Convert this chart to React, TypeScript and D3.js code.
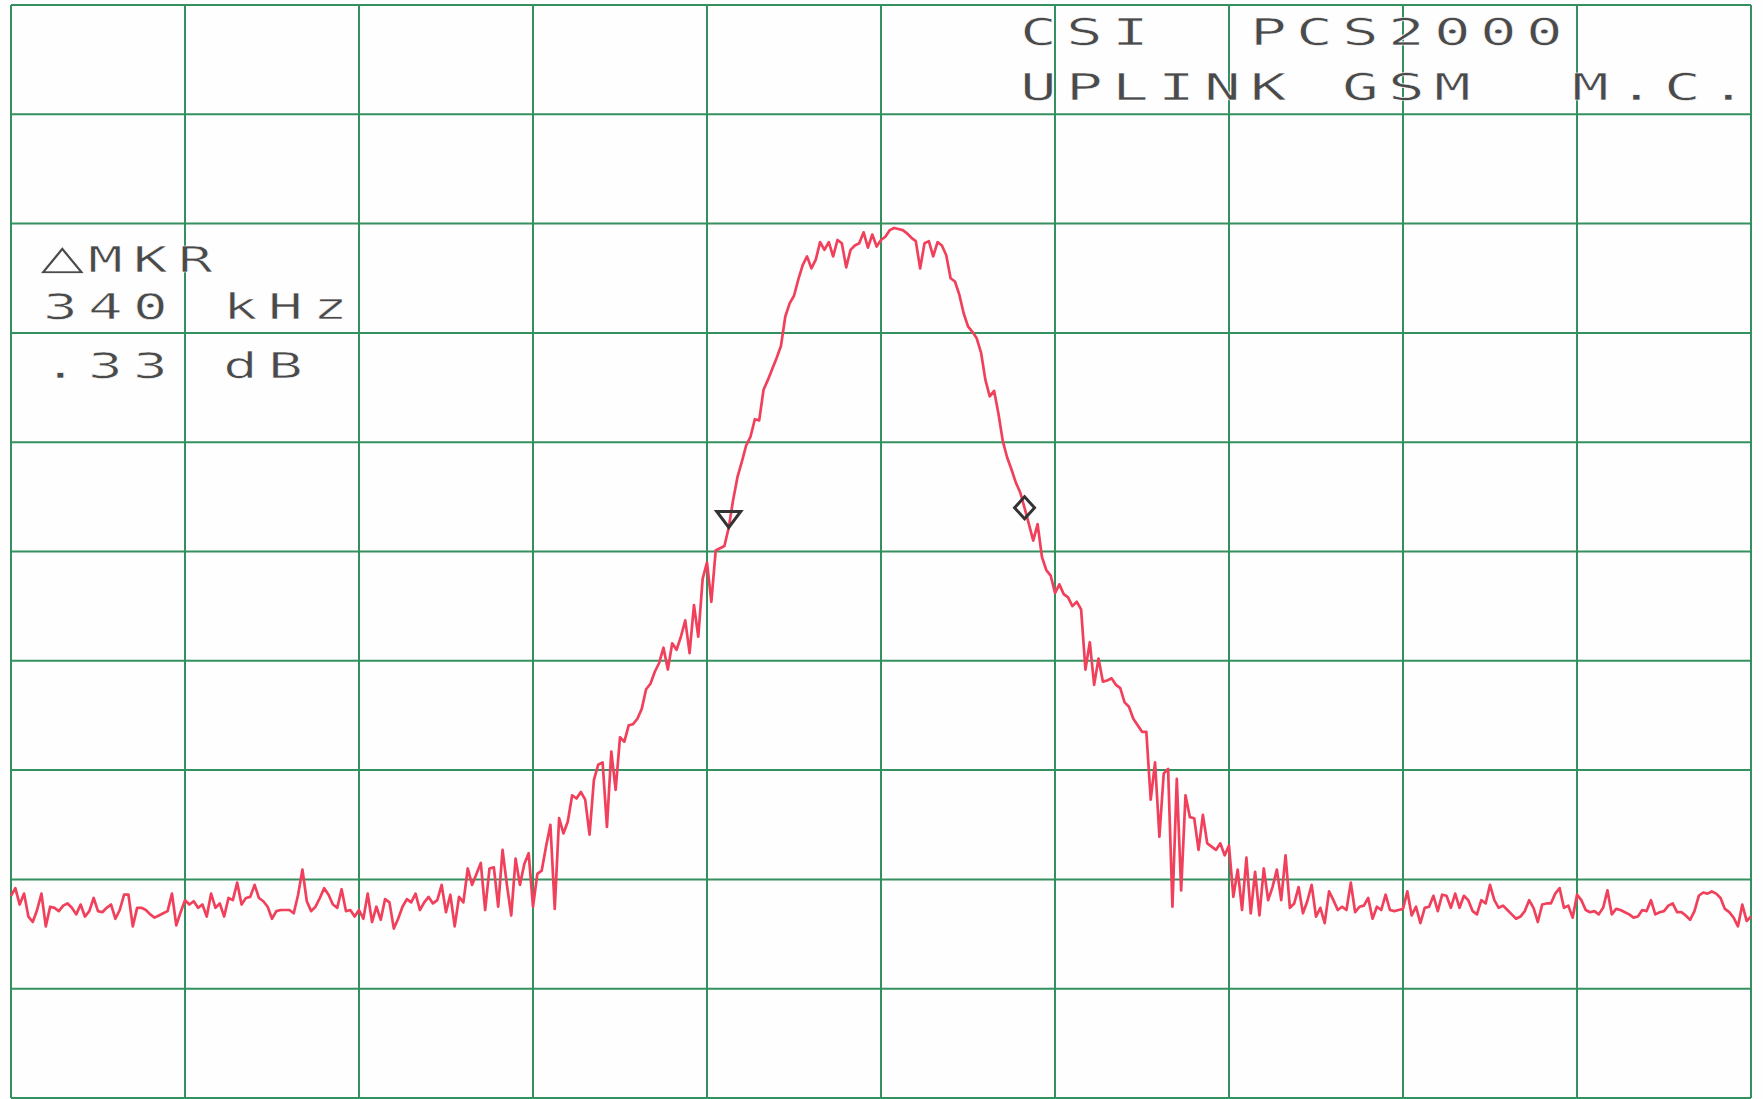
import React from 'react';
import * as d3 from 'd3';

const W = 1763;
const H = 1099;

// Sweep: 401 points, -1000 kHz .. +1000 kHz around centre, 5 kHz per point
const START_KHZ = -1000;
const STEP_KHZ = 5;

// Grid divisions (200 kHz/div horizontally, 10 dB/div vertically)
const X_GRID_KHZ = [-1000, -800, -600, -400, -200, 0, 200, 400, 600, 800, 1000];
const Y_GRID_DB = [0, -10, -20, -30, -40, -50, -60, -70, -80, -90, -100];

// Trace values (dB)
const noiseLeft = [
  -81.5, -80.8, -82.3, -81.3, -83.4, -83.9, -82.8, -81.3, -84.3, -82.5,
  -82.6, -82.9, -82.4, -82.2, -82.6, -83.2, -82.3, -83.4, -82.9, -81.7,
  -82.9, -83.0, -82.6, -82.3, -83.6, -82.8, -81.4, -81.4, -84.3, -82.6,
  -82.6, -82.8, -83.2, -83.5, -83.3, -83.1, -82.9, -81.3, -84.2, -83.0,
  -81.9, -82.3, -82.0, -82.6, -82.3, -83.4, -81.3, -82.6, -82.2, -83.4,
  -81.7, -81.9, -80.3, -82.3, -81.7, -81.6, -80.5, -81.7, -82.0, -82.5,
  -83.6, -82.9, -82.8, -82.8, -82.8, -83.1, -81.4, -79.1, -82.0, -82.9,
  -82.5, -81.7, -80.8, -81.4, -82.3, -82.6, -80.9, -82.9, -82.8, -83.4,
  -82.8, -83.6, -81.3, -83.9, -82.5, -83.7, -81.8, -82.1, -84.5, -83.6,
  -82.5, -81.8, -82.1, -81.3, -82.8, -82.1, -81.6, -82.2, -81.9, -80.5,
];
const skirtLeft = [
  -83.0, -81.4, -84.3, -81.6, -82.1, -79.0, -80.5, -79.5, -78.5, -82.8,
  -79.0, -78.9, -82.5, -77.3, -80.5, -83.3, -78.1, -80.5, -78.6, -77.6,
  -82.5, -79.5, -79.2, -77.0, -75.0, -82.7, -74.4, -75.8, -74.7, -72.3,
  -72.6, -72.0, -72.7, -75.9, -70.9, -69.5, -69.3, -75.2, -68.3, -71.8,
  -67.0, -67.4, -65.9, -65.8, -65.3, -64.4, -62.6, -62.1, -61.0, -60.2,
  -58.8, -60.8, -58.4, -59.0, -57.8, -56.3, -59.3, -54.9, -57.8, -52.5,
];
const mainLobe = [
  -51.0, -54.6, -49.9, -49.7, -49.5, -47.8, -45.3, -43.2, -41.8, -40.3,
  -39.5, -37.9, -38.0, -35.2, -34.3, -33.3, -32.3, -31.2, -28.5, -27.3,
  -26.6, -25.1, -23.8, -23.0, -24.1, -23.3, -21.7, -22.4, -21.7, -23.0,
  -21.5, -21.8, -24.0, -22.4, -22.0, -21.8, -20.8, -22.2, -21.0, -22.1,
  -21.5, -21.2, -20.6, -20.4, -20.5, -20.6, -20.9, -21.3, -21.6, -24.1,
  -21.8, -21.6, -23.0, -21.7, -22.0, -22.9, -25.0, -25.3, -26.5, -28.2,
  -29.4, -29.9, -30.5, -31.8, -34.3, -35.8, -35.3, -37.4, -39.9, -41.4,
  -42.5, -43.7, -44.6, -46.0, -47.5, -49.0, -47.5, -50.5, -51.7, -52.2,
];
const skirtRight = [
  -53.8, -53.0, -53.9, -54.2, -55.0, -54.6, -55.3, -60.8, -58.3, -62.2,
  -59.8, -61.9, -61.8, -61.6, -62.2, -62.5, -63.8, -64.2, -65.3, -65.9,
  -66.5, -66.5, -72.7, -69.3, -76.1, -70.3, -69.9, -82.5, -70.8, -81.0,
  -72.3, -74.3, -74.4, -77.3, -74.1, -76.7, -77.0, -77.3, -76.7, -77.8,
  -76.9, -81.6, -79.1, -82.8, -78.0, -83.1, -79.3, -83.3, -79.0, -81.9,
  -80.7, -79.1, -81.9, -77.8, -82.6, -82.2, -80.7, -83.1, -82.0, -80.5,
];
const noiseRight = [
  -83.4, -82.6, -84.0, -81.1, -81.9, -82.8, -82.5, -82.8, -80.3, -83.0,
  -82.5, -82.4, -81.7, -83.6, -82.5, -82.8, -81.4, -82.8, -82.9, -82.8,
  -82.7, -81.1, -83.3, -82.5, -84.0, -82.6, -82.5, -81.5, -82.9, -81.4,
  -81.5, -82.6, -81.3, -82.6, -81.5, -81.9, -82.9, -83.2, -81.9, -82.2,
  -80.5, -81.9, -82.6, -82.4, -82.8, -83.2, -83.6, -83.4, -82.9, -81.9,
  -82.6, -83.9, -82.3, -82.2, -82.2, -81.3, -80.8, -82.6, -82.4, -83.5,
  -81.4, -81.9, -82.8, -83.0, -82.9, -83.2, -82.6, -81.0, -83.2, -82.7,
  -82.8, -83.0, -83.2, -83.5, -83.4, -82.8, -82.9, -81.9, -83.2, -83.0,
  -82.9, -82.4, -82.2, -83.0, -83.0, -83.3, -83.7, -82.9, -81.5, -81.2,
  -81.3, -81.1, -81.3, -81.7, -82.7, -83.0, -83.5, -84.3, -82.3, -83.8,
  -83.4,
];

const traceDb = [...noiseLeft, ...skirtLeft, ...mainLobe, ...skirtRight, ...noiseRight];

// Markers (kHz offset) — reference marker (triangle) and delta marker (diamond)
const markerKhz = [-175, 165];
const markerShapes = ['triangle', 'diamond'];

// Annotation text
const titleLines = ['CSI  PCS2000', 'UPLINK GSM  M.C.'];
const readoutLines = ['\u25B3MKR', '340 kHz', '.33 dB'];

const GRID = '#33905f';
const TRACE = '#f0405b';
const INK = '#4a4a4a';

function PlotText({ str, x, y, pitch, size, sx }: { str: string; x: number; y: number; pitch: number; size: number; sx: number }) {
  const chars = Array.from(str);
  return (
    <text
      transform={`translate(${x},${y}) scale(${sx},1)`}
      fontFamily="'DejaVu Sans Mono', 'DejaVu Sans', monospace"
      fontSize={size}
      fill={INK}
      stroke="#ffffff"
      strokeWidth={0.6}
      paintOrder="normal"
    >
      {chars.map((c, k) =>
        c === ' ' ? null : c === '\u25B3' ? (
          <tspan key={k} x={(k * pitch) / sx - 2} y={0} fontSize={size * 1.3}>
            {c}
          </tspan>
        ) : (
          <tspan key={k} x={(k * pitch) / sx} y={0}>
            {c}
          </tspan>
        )
      )}
    </text>
  );
}

export default function App() {
  const xScale = d3.scaleLinear().domain([-1000, 1000]).range([11, 1751]);
  const yScale = d3.scaleLinear().domain([0, -100]).range([5, 1098]);

  const pts: [number, number][] = traceDb.map((v, i) => [START_KHZ + i * STEP_KHZ, v]);
  const line = d3
    .line<[number, number]>()
    .x((d) => xScale(d[0]))
    .y((d) => yScale(d[1]));

  const markerPts = markerKhz.map((f, k) => {
    const idx = Math.round((f - START_KHZ) / STEP_KHZ);
    return { x: xScale(f), y: yScale(traceDb[idx]), shape: markerShapes[k] };
  });

  return (
    <svg
      width={W}
      height={H}
      style={{ position: 'absolute', left: 0, top: 0, background: '#fff' }}
    >
      <rect x={0} y={0} width={W} height={H} fill="#fefefe" />
      <g>
        {X_GRID_KHZ.map((f) => (
          <line
            key={'vx' + f}
            x1={xScale(f)}
            x2={xScale(f)}
            y1={yScale(0)}
            y2={yScale(-100)}
            stroke={GRID}
            strokeWidth={2}
          />
        ))}
        {Y_GRID_DB.map((d) => (
          <line
            key={'hy' + d}
            x1={xScale(-1000)}
            x2={xScale(1000)}
            y1={yScale(d)}
            y2={yScale(d)}
            stroke={GRID}
            strokeWidth={2}
          />
        ))}
      </g>

      {titleLines.map((s, k) => (
        <PlotText key={'t' + k} str={s} x={1020} y={45 + k * 55} pitch={46} size={37} sx={1.65} />
      ))}
      {readoutLines.map((s, k) => (
        <PlotText key={'r' + k} str={s} x={43} y={272 + (k === 0 ? 0 : k === 1 ? 47 : 106)} pitch={45} size={35} sx={1.65} />
      ))}

      <path d={line(pts) || ''} fill="none" stroke={TRACE} strokeWidth={2.7} strokeLinejoin="round" />

      {markerPts.map((m, k) =>
        m.shape === 'triangle' ? (
          <path
            key={k}
            d={`M${m.x - 12},${m.y - 16} L${m.x + 12},${m.y - 16} L${m.x},${m.y} Z`}
            fill="none"
            stroke="#333"
            strokeWidth={3}
            strokeLinejoin="miter"
          />
        ) : (
          <path
            key={k}
            d={`M${m.x},${m.y - 11} L${m.x + 10},${m.y} L${m.x},${m.y + 11} L${m.x - 10},${m.y} Z`}
            fill="none"
            stroke="#333"
            strokeWidth={3}
          />
        )
      )}
    </svg>
  );
}
